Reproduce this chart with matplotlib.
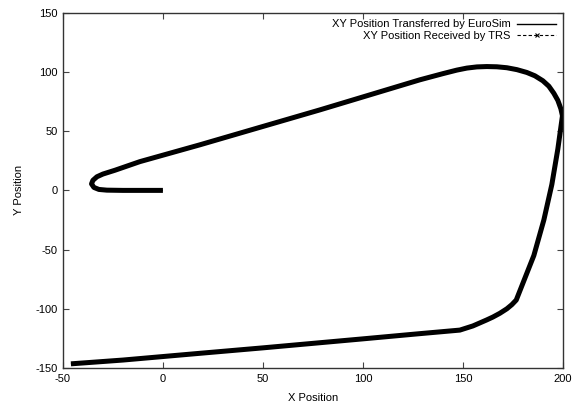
import numpy as np
import matplotlib.pyplot as plt
from matplotlib.lines import Line2D

plt.rcParams['font.family'] = ['Liberation Sans', 'DejaVu Sans']
plt.rcParams['axes.unicode_minus'] = False

# path (x, y)
xs = [0, -10, -20, -28, -32, -34.5, -35.7, -35, -33, -30, -24, -11.5, 18.5, 50,
      78.5, 110, 128.5, 140, 147, 152, 157, 162, 167, 172, 177, 182, 186,
      190, 193, 195.5, 197.5, 199, 199.8, 197.5, 194.5, 190.5, 185.5,
      176.7, 174.5, 172, 168.5, 165, 161.8, 158,
      155, 148.5, 128.5, 100, 50, 18.5, -20, -46]
ys = [0, 0, 0, 0.2, 0.8, 2.5, 5.5, 8.5, 11.5, 13.8, 17, 24.3, 38.5, 54,
      68, 84, 93.4, 98.6, 101.6, 103.3, 104.3, 104.6, 104.4, 103.6, 102, 99.6, 96.8,
      92.6, 88, 82, 76, 69, 63, 35, 5, -25, -55,
      -92.6, -96.5, -100, -103.8, -107, -109.5, -112.3,
      -114.5, -118, -121, -125.4, -133, -137.6, -143.3, -146.5]

# TRS received the same positions
xs_trs = xs
ys_trs = ys

fig = plt.figure(figsize=(5.72, 4.05), dpi=100)
ax = fig.add_axes([0.110, 0.0914, 0.874, 0.877])

ax.plot(xs, ys, color='black', lw=3.6, solid_capstyle='butt', solid_joinstyle='round')
ax.plot(xs_trs, ys_trs, color='black', lw=0.8, ls='--')

ax.set_xlim(-50, 200)
ax.set_ylim(-150, 150)
ax.set_xticks(np.arange(-50, 201, 50))
ax.set_yticks(np.arange(-150, 151, 50))
ax.tick_params(direction='in', length=4, width=0.8, color='#444444',
               top=True, right=True, labelsize=8, pad=4)
for s in ax.spines.values():
    s.set_linewidth(1)
    s.set_color('#333333')

ax.set_xlabel('X Position', fontsize=8, labelpad=7)
ax.set_ylabel('Y Position', fontsize=8, labelpad=8)

h1 = Line2D([], [], color='black', lw=1)
h2 = Line2D([], [], color='black', lw=0.8, ls=(0, (3, 2)), marker='x', ms=3, mew=0.8)
ax.legend([h1, h2], ['XY Position Transferred by EuroSim', 'XY Position Received by TRS'],
          loc='upper right', frameon=False, markerfirst=False, fontsize=8,
          handlelength=3.5, handletextpad=0.6, labelspacing=0.15,
          borderaxespad=0.2, numpoints=1)

fig.savefig('out.png', dpi=100)
